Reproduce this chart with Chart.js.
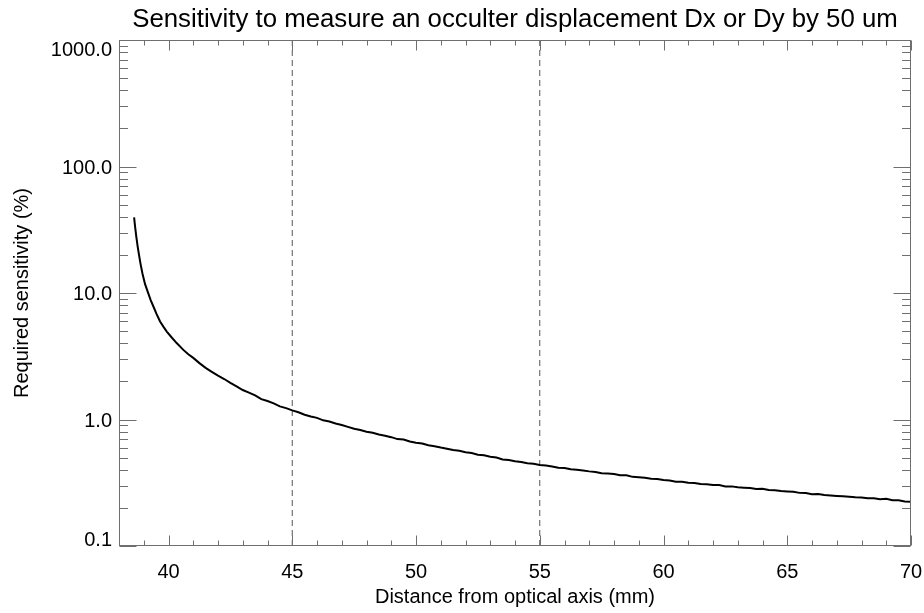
<!DOCTYPE html>
<html>
<head>
<meta charset="utf-8">
<title>Sensitivity to occulter displacement</title>
<script src="https://cdn.jsdelivr.net/npm/chart.js@4.4.1/dist/chart.umd.min.js"></script>
<style>
  html, body { margin: 0; padding: 0; background: #fff; }
  #wrap { width: 924px; height: 613px; }
</style>
</head>
<body>
<div id="wrap"><canvas id="chart" width="924" height="613"></canvas></div>
<script>
/* ── Data ───────────────────────────────────────────────────────────────── */
const distance = [
  38.61, 38.65, 38.7, 38.75, 38.8, 38.87, 38.95, 39.05, 39.18,
  39.28, 39.39, 39.52, 39.66, 39.8, 39.93, 40.13, 40.33, 40.6, 40.8,
  41.0, 41.25, 41.5, 41.75, 42.0, 42.25, 42.5, 42.75, 43.0, 43.25,
  43.5, 43.75, 44.0, 44.25, 44.5, 44.75, 45.0, 45.25, 45.5, 45.75,
  46.0, 46.25, 46.5, 46.75, 47.0, 47.25, 47.5, 47.75, 48.0, 48.25,
  48.5, 48.75, 49.0, 49.25, 49.5, 49.75, 50.0, 50.25, 50.5, 50.75,
  51.0, 51.25, 51.5, 51.75, 52.0, 52.25, 52.5, 52.75, 53.0, 53.25,
  53.5, 53.75, 54.0, 54.25, 54.5, 54.75, 55.0, 55.25, 55.5, 55.75,
  56.0, 56.25, 56.5, 56.75, 57.0, 57.25, 57.5, 57.75, 58.0, 58.25,
  58.5, 58.75, 59.0, 59.25, 59.5, 59.75, 60.0, 60.25, 60.5, 60.75,
  61.0, 61.25, 61.5, 61.75, 62.0, 62.25, 62.5, 62.75, 63.0, 63.25,
  63.5, 63.75, 64.0, 64.25, 64.5, 64.75, 65.0, 65.25, 65.5, 65.75,
  66.0, 66.25, 66.5, 66.75, 67.0, 67.25, 67.5, 67.75, 68.0, 68.25,
  68.5, 68.75, 69.0, 69.25, 69.5, 69.75, 70.0
];
const sensitivity = [
  39.6, 33.5, 27.8, 23.6, 20.5, 17.0, 14.2, 11.8, 9.98,
  8.8, 7.82, 6.8, 5.95, 5.4, 4.96, 4.45, 4.02, 3.55, 3.28,
  3.07, 2.79, 2.56, 2.38, 2.22, 2.09, 1.95, 1.83, 1.71, 1.63,
  1.55, 1.45, 1.40, 1.34, 1.27, 1.23, 1.18, 1.14, 1.09, 1.055,
  1.03, 0.985, 0.965, 0.93, 0.905, 0.875, 0.845, 0.825, 0.80, 0.785,
  0.76, 0.745, 0.725, 0.70, 0.695, 0.67, 0.655, 0.645, 0.625, 0.615,
  0.600, 0.588, 0.574, 0.566, 0.551, 0.543, 0.527, 0.521, 0.508, 0.500,
  0.483, 0.478, 0.468, 0.462, 0.451, 0.447, 0.437, 0.433, 0.425, 0.416,
  0.414, 0.404, 0.400, 0.396, 0.389, 0.385, 0.376, 0.374, 0.371, 0.363,
  0.362, 0.352, 0.350, 0.346, 0.340, 0.338, 0.332, 0.329, 0.322, 0.322,
  0.316, 0.315, 0.309, 0.308, 0.303, 0.303, 0.296, 0.296, 0.291, 0.289,
  0.287, 0.282, 0.284, 0.277, 0.276, 0.272, 0.270, 0.268, 0.263, 0.262,
  0.257, 0.258, 0.253, 0.251, 0.249, 0.247, 0.245, 0.243, 0.242, 0.239,
  0.238, 0.234, 0.236, 0.230, 0.230, 0.225, 0.224
];
const markerLines = [45, 55];
const xRange = [38, 70];
const yRange = [0.1, 1000];
const xMajorTicks = [40, 45, 50, 55, 60, 65, 70];
const yDecades = [0.1, 1, 10, 100, 1000];

const TITLE = 'Sensitivity to measure an occulter displacement Dx or Dy by 50 um';
const FONT = '"Liberation Sans", Arial, Helvetica, sans-serif';
const AXIS_GREY = '#6f6f6f';

Chart.defaults.font.family = FONT;
Chart.defaults.color = '#000';

/* ── IDL-style frame: box, inward ticks, y labels, title ─────────────────── */
const idlFrame = {
  id: 'idlFrame',
  afterDraw(chart) {
    const { ctx, chartArea: a, scales: { x, y } } = chart;
    const L = Math.round(a.left) + 0.5, R = Math.round(a.right) - 0.5;
    const T = Math.round(a.top) + 0.5, B = Math.round(a.bottom) - 0.5;
    ctx.save();
    ctx.strokeStyle = AXIS_GREY;
    ctx.lineWidth = 1;
    ctx.strokeRect(L, T, R - L, B - T);

    ctx.beginPath();
    // x ticks: minor every 1 mm, major every 5 mm, bottom and top
    for (let v = Math.ceil(xRange[0]); v <= xRange[1]; v++) {
      const px = Math.round(x.getPixelForValue(v)) + 0.5;
      const len = v % 5 === 0 ? 10 : 5;
      ctx.moveTo(px, B); ctx.lineTo(px, B - len);
      ctx.moveTo(px, T); ctx.lineTo(px, T + len);
    }
    // y ticks: major at decades, minor at 2..9
    y.ticks.forEach(t => {
      const py = Math.round(y.getPixelForValue(t.value)) + 0.5;
      const len = yDecades.includes(t.value) ? 17 : 8.5;
      ctx.moveTo(L, py); ctx.lineTo(L + len, py);
      ctx.moveTo(R, py); ctx.lineTo(R - len, py);
    });
    ctx.stroke();

    // y labels (IDL keeps the end labels inside the axis span)
    ctx.fillStyle = '#000';
    ctx.font = '20px ' + FONT;
    ctx.textAlign = 'right';
    ctx.textBaseline = 'alphabetic';
    yDecades.forEach((v, i) => {
      const py = y.getPixelForValue(v);
      let base = py + 7;
      if (i === 0) base = py;
      if (i === yDecades.length - 1) base = py + 16;
      ctx.fillText(v.toFixed(1), a.left - 7, base);
    });

    // title centred on plot area
    ctx.font = '25.8px ' + FONT;
    ctx.textAlign = 'center';
    ctx.fillText(TITLE, (a.left + a.right) / 2, 27);
    ctx.restore();
  }
};

/* ── Chart ──────────────────────────────────────────────────────────────── */
const curvePoints = distance.map((d, i) => ({ x: d, y: sensitivity[i] }));

const yTickValues = [];
yDecades.forEach(d => {
  for (let m = 1; m <= 9; m++) {
    const v = +(d * m).toPrecision(3);
    if (v <= yRange[1]) yTickValues.push(v);
  }
});

const datasets = [{
  data: curvePoints,
  borderColor: '#000',
  borderWidth: 2,
  pointRadius: 0,
  showLine: true,
  tension: 0,
}];
markerLines.forEach(xv => {
  datasets.push({
    data: [{ x: xv, y: yRange[0] }, { x: xv, y: yRange[1] }],
    borderColor: '#555',
    borderWidth: 1,
    borderDash: [6, 4],
    pointRadius: 0,
    showLine: true,
  });
});

new Chart(document.getElementById('chart'), {
  type: 'scatter',
  data: { datasets },
  options: {
    responsive: false,
    animation: false,
    layout: { padding: { left: 0, right: 13, top: 40, bottom: 0 } },
    plugins: {
      legend: { display: false },
      tooltip: { enabled: false },
      title: { display: false },
    },
    scales: {
      x: {
        type: 'linear',
        min: xRange[0],
        max: xRange[1],
        grid: { display: false, drawTicks: false },
        border: { display: false },
        afterBuildTicks: s => { s.ticks = xMajorTicks.map(v => ({ value: v })); },
        afterFit: s => { s.height = 67; s.paddingLeft = 0; s.paddingRight = 0; },
        ticks: { font: { size: 20 }, color: '#000', padding: 14, maxRotation: 0, autoSkip: false,
                 callback: v => String(v) },
        title: { display: true, text: 'Distance from optical axis (mm)', font: { size: 20 },
                 color: '#000', padding: { top: 0, bottom: 4 } },
      },
      y: {
        type: 'logarithmic',
        min: yRange[0],
        max: yRange[1],
        grid: { display: false, drawTicks: false },
        border: { display: false },
        afterBuildTicks: s => { s.ticks = yTickValues.map(v => ({ value: v })); },
        afterFit: s => { s.width = 119; s.paddingTop = 0; s.paddingBottom = 0; },
        ticks: { display: false },
        title: { display: true, text: 'Required sensitivity (%)', font: { size: 20 },
                 color: '#000', padding: { top: 10, bottom: 0 } },
      },
    },
  },
  plugins: [idlFrame],
});
</script>
</body>
</html>
